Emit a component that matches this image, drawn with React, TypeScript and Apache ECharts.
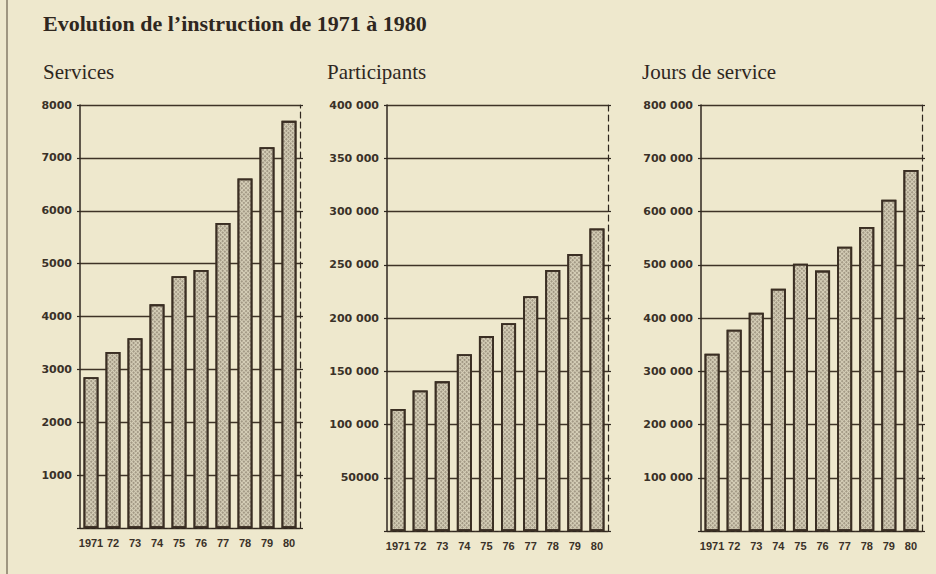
import React, { useEffect, useRef } from 'react';
import * as echarts from 'echarts';

const years = ['1971', '72', '73', '74', '75', '76', '77', '78', '79', '80'];
const services = [2850, 3330, 3590, 4230, 4760, 4880, 5770, 6610, 7200, 7700];
const participants = [114500, 132000, 140500, 166000, 183000, 195000, 220500, 245000, 260000, 284000];
const joursDeService = [333000, 378000, 410000, 455000, 502000, 489000, 534000, 571000, 622000, 678000];
const panelTitles = ['Services', 'Participants', 'Jours de service'];
const axisMax = [8000, 400000, 800000];
const axisStep = [1000, 50000, 100000];
const mainTitle = 'Evolution de l\u2019instruction de 1971 à 1980';

const panelData = [services, participants, joursDeService];

const INK = '#2f271f';
const BG = '#eee8cd';

const grids = [
  { left: 80, top: 105, width: 220, height: 423 },
  { left: 387, top: 105, width: 221, height: 426 },
  { left: 701, top: 105, width: 221, height: 426 },
];
const titleX = [43, 327, 642];

function fmt(v: number): string {
  if (v === 0) return '';
  if (v >= 100000) {
    const th = Math.floor(v / 1000);
    const rest = String(v % 1000).padStart(3, '0');
    return th + ' ' + rest;
  }
  return String(v);
}

export default function App() {
  const ref = useRef<HTMLDivElement>(null);
  useEffect(() => {
    if (!ref.current) return;
    const chart = echarts.init(ref.current, undefined, { renderer: 'svg' });
    const yFont = { fontFamily: 'DejaVu Sans', fontSize: 11, fontWeight: 'bold', color: '#3a3128' };
    const xFont = { fontFamily: 'Liberation Sans', fontSize: 11, fontWeight: 'bold', color: '#3a3128' };
    const xAxis: any[] = [];
    const yAxis: any[] = [];
    const series: any[] = [];
    grids.forEach((g, i) => {
      xAxis.push({
        type: 'category',
        gridIndex: i,
        data: years,
        boundaryGap: true,
        axisLine: { show: true, lineStyle: { color: INK, width: 1, type: [3, 3] } },
        axisTick: { show: false },
        axisLabel: { ...xFont, margin: 9, interval: 0 },
        splitLine: { show: false },
      });
      yAxis.push({
        type: 'value',
        gridIndex: i,
        min: 0,
        max: axisMax[i],
        interval: axisStep[i],
        position: 'left',
        axisLine: { show: true, lineStyle: { color: INK, width: 1.5 } },
        axisTick: { show: true, length: 3, lineStyle: { color: INK, width: 1.2 } },
        axisLabel: { ...yFont, margin: 8, formatter: (v: number) => fmt(v) },
        splitLine: { show: true, lineStyle: { color: '#3e3327', width: 1.3 } },
      });
      yAxis.push({
        type: 'value',
        gridIndex: i,
        min: 0,
        max: axisMax[i],
        interval: axisStep[i],
        position: 'right',
        axisLine: { show: true, lineStyle: { color: INK, width: 1.2, type: [6, 4] } },
        axisTick: { show: true, length: 3, lineStyle: { color: INK, width: 1.2 } },
        axisLabel: { show: false },
        splitLine: { show: false },
      });
      series.push({
        type: 'bar',
        xAxisIndex: i,
        yAxisIndex: i * 2,
        data: panelData[i],
        barWidth: '68%',
        itemStyle: {
          color: '#d6cfb8',
          borderColor: '#3a2e23',
          borderWidth: 1.8,
          decal: {
            symbol: 'circle',
            symbolSize: 0.75,
            color: 'rgba(80,66,52,0.75)',
            dashArrayX: [2, 1],
            dashArrayY: [2, 1],
            rotation: Math.PI / 4,
          },
        },
        emphasis: { disabled: true },
      });
    });

    const graphic: any[] = [
      {
        type: 'line',
        shape: { x1: 7, y1: 0, x2: 7, y2: 574 },
        style: { stroke: '#6b5f4e', lineWidth: 1.2 },
      },
      {
        type: 'text',
        x: 43,
        y: 23,
        style: {
          text: mainTitle,
          fontFamily: 'Liberation Serif',
          fontWeight: 'bold',
          fontSize: 22,
          fill: INK,
          verticalAlign: 'middle',
        },
      },
    ];
    panelTitles.forEach((t, i) => {
      graphic.push({
        type: 'text',
        x: titleX[i],
        y: 72,
        style: {
          text: t,
          fontFamily: 'Liberation Serif',
          fontSize: 21,
          fill: INK,
          verticalAlign: 'middle',
        },
      });
    });

    chart.setOption({
      animation: false,
      backgroundColor: BG,
      grid: grids.map((g) => ({ ...g, containLabel: false })),
      xAxis,
      yAxis,
      series,
      graphic,
    });
    return () => chart.dispose();
  }, []);
  return (
    <div
      ref={ref}
      style={{ position: 'fixed', left: 0, top: 0, width: 936, height: 574 }}
    />
  );
}
